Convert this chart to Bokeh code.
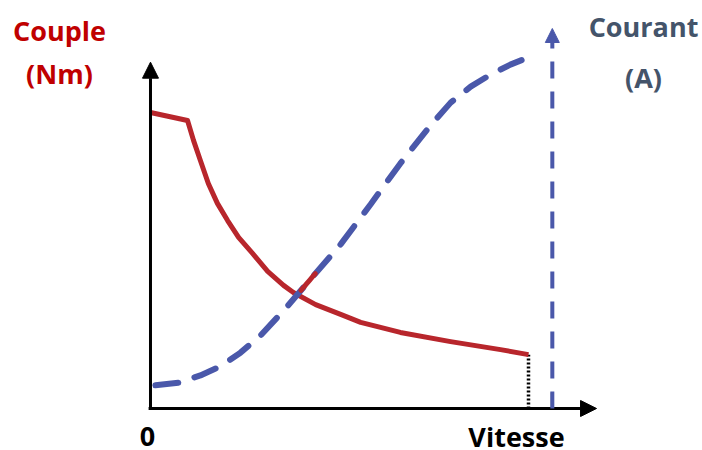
import numpy as np
from bokeh.plotting import figure
from bokeh.models import Range1d, Arrow, NormalHead, Label
from bokeh.embed import file_html
from bokeh.resources import INLINE

# ---- data (arbitrary units) ----
torque_speed = [0, 9.8, 11.4, 13.2, 15.3, 17.7, 20.4, 23.3, 27.0, 31.0, 35.2, 37.8,
                43.7, 50.3, 55.6, 66.1, 79.4, 92.6, 100]
torque_vals = [100, 97.3, 90.5, 83.8, 76.0, 69.3, 63.5, 57.8, 52.4, 46.3, 41.6, 39.2,
               35.1, 31.8, 29.1, 25.7, 22.6, 19.9, 18.2]

current_speed = [1.3, 7.4, 13.2, 18.5, 23.8, 29.1, 35.7, 42.3, 50.3, 58.2, 66.1, 74.1, 79.4, 84.7, 90.0, 95.2, 100]
current_vals = [6.1, 6.8, 8.7, 11.1, 14.7, 19.2, 26.3, 34.0, 43.2, 53.7, 64.5, 74.5, 80.5, 84.7, 87.9, 90.5, 92.4]

max_speed = 106.3      # position of the vertical current arrow
current_tip = 100.0
speed_axis_end = 118.0
torque_axis_end = 117.0
crossing = [39.8, 43.6]  # speed span where the current dash is drawn red

RED = "#b8262c"
RED_TXT = "#c00000"
BLUE = "#4a58aa"
BLUE_TXT = "#44546a"
FONT = "Open Sans"

W, H = 702, 450
p = figure(width=W, height=H, x_range=Range1d(-39.68, 146.03),
           y_range=Range1d(-14.19, 137.84), min_border=0,
           toolbar_location=None, output_backend="svg")
p.extra_y_ranges = {"current": Range1d(-11.05, 107.37)}
p.axis.visible = False
p.grid.visible = False
p.outline_line_color = None
p.background_fill_color = "white"

# axes with arrows
p.add_layout(Arrow(end=NormalHead(size=16, fill_color="black", line_color="black"),
                   x_start=0, y_start=0, x_end=0, y_end=torque_axis_end,
                   line_width=3, line_color="black"))
p.add_layout(Arrow(end=NormalHead(size=16, fill_color="black", line_color="black"),
                   x_start=-0.5, y_start=0, x_end=speed_axis_end, y_end=0,
                   line_width=3, line_color="black"))

# dotted drop line at end of torque curve
p.line([torque_speed[-1], torque_speed[-1]], [0, torque_vals[-1]],
       line_color="black", line_width=3.5, line_dash="2 2")

# torque curve
p.line(torque_speed, torque_vals, line_color=RED, line_width=5, line_join="round")

# current curve (dashed)
p.line(current_speed, current_vals, y_range_name="current", line_color=BLUE,
       line_width=6, line_dash="23 17", line_cap="round")

# red piece of the crossing dash
cs = np.linspace(crossing[0], crossing[1], 6)
cv = np.interp(cs, current_speed, current_vals)
p.line(cs, cv, y_range_name="current", line_color=RED, line_width=5, line_cap="round")

# vertical current arrow
p.add_layout(Arrow(end=NormalHead(size=14, fill_color=BLUE, line_color=BLUE),
                   x_start=max_speed, y_start=0, x_end=max_speed, y_end=current_tip,
                   y_range_name="current", line_width=4, line_color=BLUE,
                   line_dash="17 13"))
p.line([max_speed, max_speed], [0, 4.2], y_range_name="current",
       line_color="black", line_width=3)

# texts
def lab(txt, x, y, color):
    p.add_layout(Label(x=x, y=y, x_units="screen", y_units="screen", text=txt,
                       text_font=FONT, text_font_style="bold", text_font_size="27px",
                       text_color=color, text_align="center", text_baseline="alphabetic"))

lab("Couple", 59, 420, RED_TXT)
lab("(Nm)", 59, 377, RED_TXT)
lab("Courant", 643, 424, BLUE_TXT)
lab("(A)", 643, 373, BLUE_TXT)
lab("0", 147, 14, "black")
lab("Vitesse", 516, 14, "black")

open("out.html", "w").write(file_html(p, INLINE))
